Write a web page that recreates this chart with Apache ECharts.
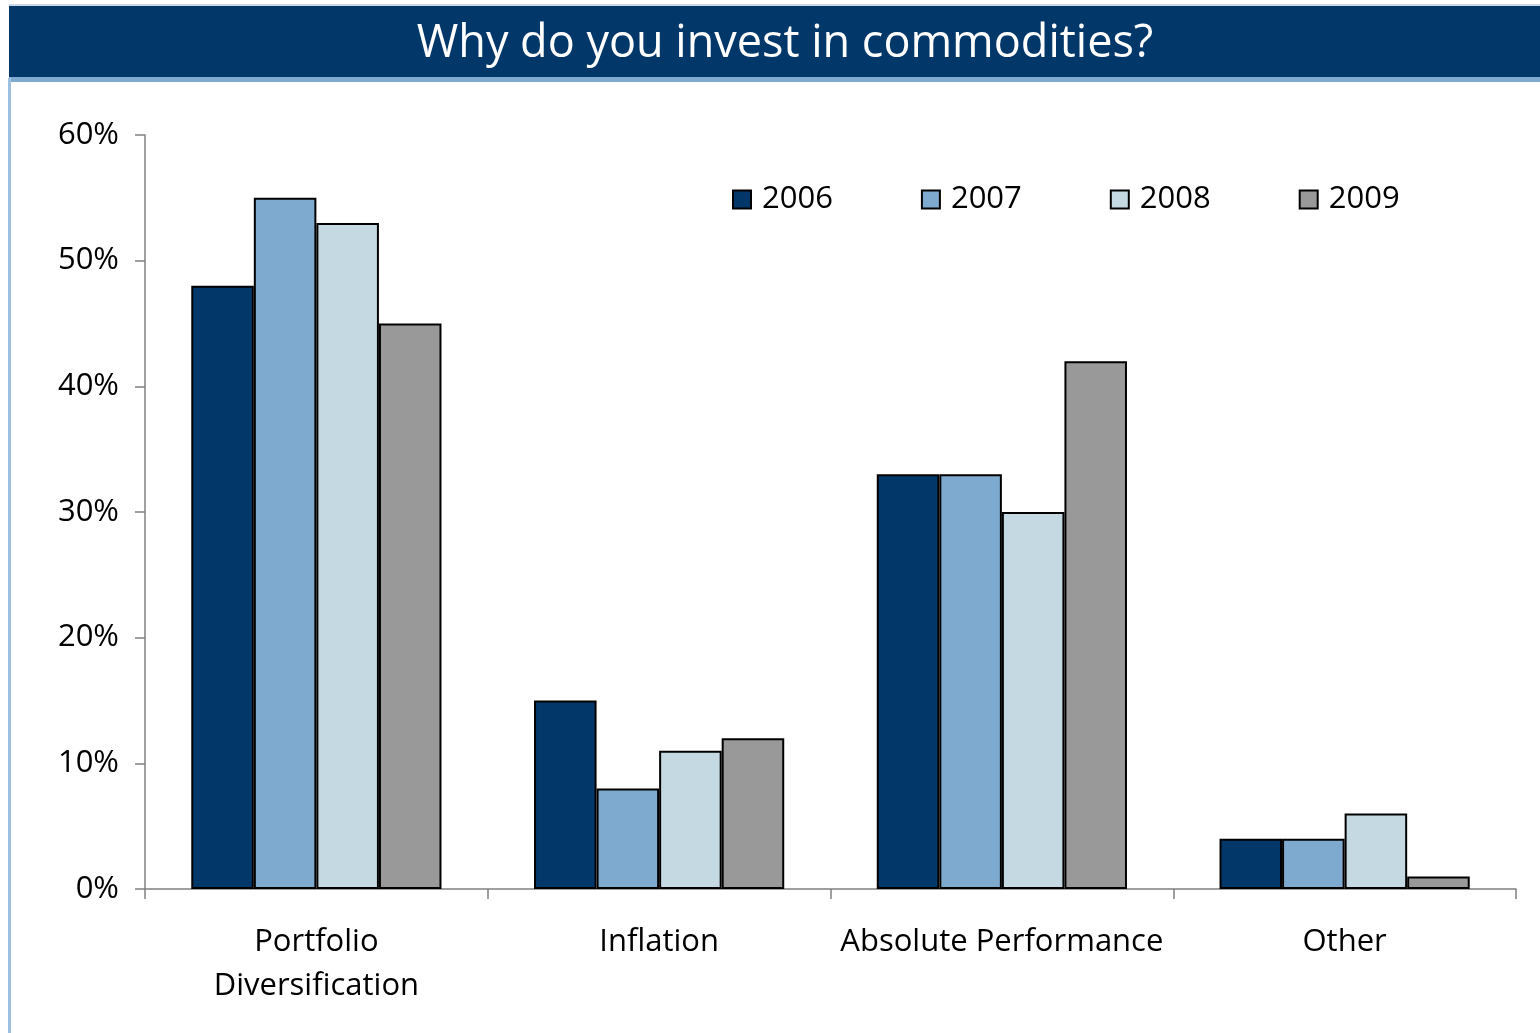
<!DOCTYPE html>
<html>
<head>
<meta charset="utf-8">
<script src="https://cdn.jsdelivr.net/npm/echarts@6/dist/echarts.min.js"></script>
<style>
  html, body { margin: 0; padding: 0; background: #fff; }
  #chart { width: 1540px; height: 1033px; }
</style>
</head>
<body>
<div id="chart"></div>
<script>
  // data
  var categories = ['Portfolio\nDiversification', 'Inflation', 'Absolute Performance', 'Other'];
  var years = ['2006', '2007', '2008', '2009'];
  var v2006 = [48, 15, 33, 4];
  var v2007 = [55, 8, 33, 4];
  var v2008 = [53, 11, 30, 6];
  var v2009 = [45, 12, 42, 1];
  var colors = ['#02376a', '#7faacf', '#c5d9e2', '#999999'];

  var font = '"Open Sans", "DejaVu Sans", sans-serif';
  var myChart = echarts.init(document.getElementById('chart'));

  function bar(name, data, i) {
    return {
      name: name,
      type: 'bar',
      data: data,
      barGap: '0%',
      barCategoryGap: '27%',
      itemStyle: {color: colors[i], borderColor: '#000', borderWidth: 2},
      silent: true
    };
  }

  myChart.setOption({
    animation: false,
    grid: {left: 145, right: 24, top: 135, bottom: 144},
    graphic: [
      // title bar
      {type: 'rect', shape: {x: 9, y: 4, width: 1531, height: 2}, style: {fill: '#c9d9ea'}},
      {type: 'rect', shape: {x: 9, y: 6, width: 1531, height: 72}, style: {fill: '#02376a'}},
      {type: 'rect', shape: {x: 9, y: 77, width: 1531, height: 5}, style: {fill: '#7faacf'}},
      // left border
      {type: 'rect', shape: {x: 8, y: 78, width: 3, height: 960}, style: {fill: '#9dbfe0'}},
      {type: 'text', x: 785, y: 44, style: {
        text: 'Why do you invest in commodities?', fill: '#fff',
        font: '45px ' + font, textAlign: 'center', textVerticalAlign: 'middle'
      }}
    ],
    legend: {
      data: years,
      left: 727,
      top: 179,
      icon: 'rect',
      itemWidth: 18,
      itemHeight: 18,
      itemGap: 88,
      itemStyle: {borderColor: '#000', borderWidth: 2},
      textStyle: {fontFamily: font, fontSize: 31, color: '#000', padding: [0, 0, 0, 6]}
    },
    xAxis: {
      type: 'category',
      data: categories,
      axisLine: {lineStyle: {color: '#808080', width: 1.5}},
      axisTick: {show: true, interval: 0, length: 10, lineStyle: {color: '#808080', width: 1.5}},
      axisLabel: {interval: 0, fontFamily: font, fontSize: 31, color: '#000', margin: 31, lineHeight: 44}
    },
    yAxis: {
      type: 'value',
      min: 0,
      max: 60,
      interval: 10,
      axisLine: {show: true, lineStyle: {color: '#808080', width: 1.5}},
      axisTick: {show: true, length: 10, lineStyle: {color: '#808080', width: 1.5}},
      splitLine: {show: false},
      axisLabel: {fontFamily: font, fontSize: 31, color: '#000', margin: 26, formatter: '{value}%'}
    },
    series: [
      bar(years[0], v2006, 0),
      bar(years[1], v2007, 1),
      bar(years[2], v2008, 2),
      bar(years[3], v2009, 3)
    ]
  });
</script>
</body>
</html>
